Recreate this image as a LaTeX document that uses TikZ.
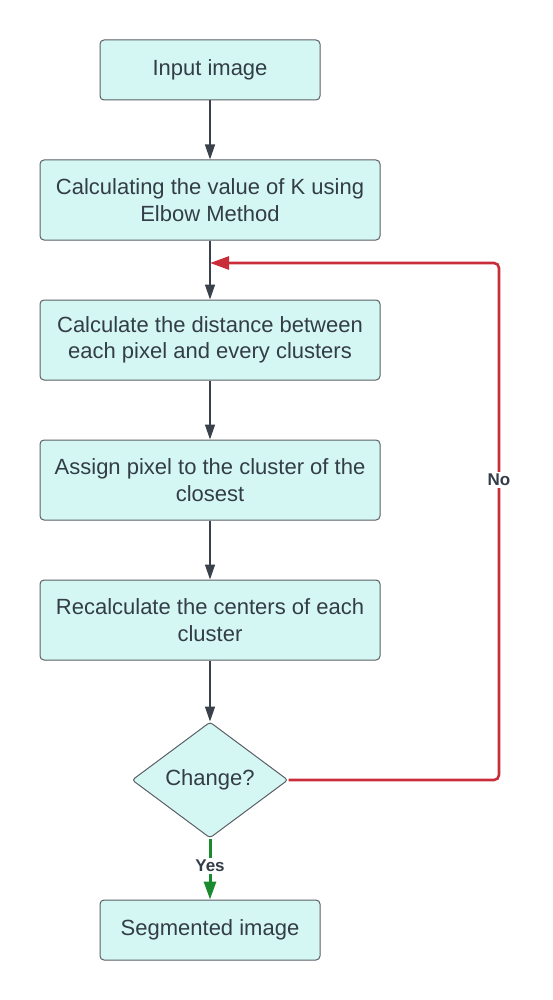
\documentclass[tikz,border=0pt]{standalone}
\usepackage{fontspec}
\setmainfont{Liberation Sans}
\usetikzlibrary{shapes.geometric,arrows.meta}
\definecolor{boxfill}{HTML}{D5F7F3}
\definecolor{boxline}{HTML}{5A5F66}
\definecolor{txt}{HTML}{333D47}
\definecolor{arr}{HTML}{3A414A}
\definecolor{nored}{HTML}{C92D39}
\definecolor{yesgreen}{HTML}{1A8A2E}
\begin{document}
\begin{tikzpicture}[x=1pt,y=-1pt,
  procbox/.style={draw=boxline,fill=boxfill,line width=1pt,rounded corners=4pt,
    text=txt,font=\fontsize{22}{26.5}\selectfont,align=center,inner sep=0pt},
  decbox/.style={draw=boxline,fill=boxfill,line width=1pt,diamond,aspect=1.34,
    text=txt,font=\fontsize{22}{26.5}\selectfont,inner sep=0pt,
    minimum width=156pt,minimum height=116pt,rounded corners=3pt},
  flow/.style={draw=arr,line width=1.4pt,-{Triangle[width=10pt,length=15pt]}},
  lbl/.style={font=\bfseries\fontsize{17}{20}\selectfont,text=txt,fill=white,inner sep=2pt}
]
\useasboundingbox (0,0) rectangle (552,1000);
\node[procbox,minimum width=220pt,minimum height=60pt] (n1) at (210,70) {Input image};
\node[procbox,minimum width=340pt,minimum height=80pt] (n2) at (210,200) {Calculating the value of K using\\Elbow Method};
\node[procbox,minimum width=340pt,minimum height=80pt] (n3) at (210,340) {Calculate the distance between\\each pixel and every clusters};
\node[procbox,minimum width=340pt,minimum height=80pt] (n4) at (210,480) {Assign pixel to the cluster of the\\closest};
\node[procbox,minimum width=340pt,minimum height=80pt] (n5) at (210,620) {Recalculate the centers of each\\cluster};
\node[decbox] (d) at (210,780) {Change?};
\node[procbox,minimum width=220pt,minimum height=60pt] (n6) at (210,930) {Segmented image};
\coordinate (m) at (210,263);
\coordinate (c1) at (499,780);
\coordinate (c2) at (499,263);
\draw[flow] (n1) -- (n2);
\draw[draw=arr,line width=1.4pt] (n2) -- (m);
\draw[flow] (m) -- (n3);
\draw[flow] (n3) -- (n4);
\draw[flow] (n4) -- (n5);
\draw[flow] (n5) -- (d);
\draw[draw=nored,line width=2.6pt,rounded corners=5pt,-{Triangle[width=13pt,length=19pt]}]
  (d.east) -- (c1) -- (c2) -- (m);
\node[lbl] (no) at (499,480) {No};
\draw[draw=yesgreen,line width=3pt,-{Triangle[width=12pt,length=18pt]}] (d.south) -- (n6.north);
\node[lbl] (yes) at (210,866) {Yes};
\end{tikzpicture}
\end{document}
